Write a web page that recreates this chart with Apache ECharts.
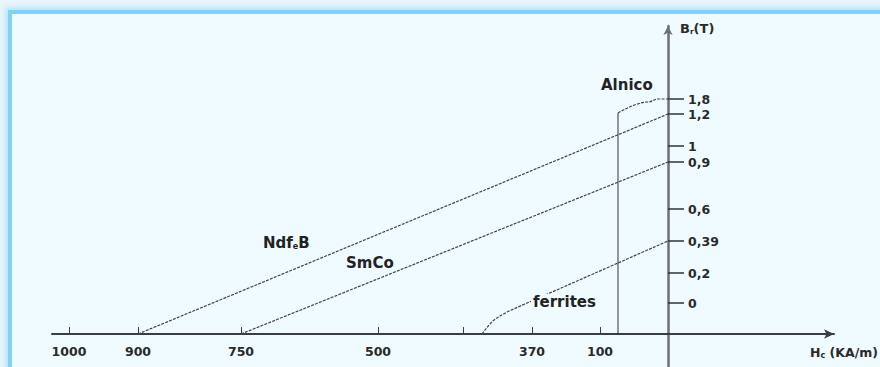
<!DOCTYPE html>
<html><head><meta charset="utf-8">
<script src="https://cdn.jsdelivr.net/npm/echarts@6/dist/echarts.min.js"></script>
<style>
html,body{margin:0;padding:0;width:880px;height:367px;overflow:hidden;background:#eaf5fc;}
#frame{position:absolute;left:8px;top:10px;width:900px;height:400px;background:#f0fbff;border-left:4px solid #80d2fa;border-top:4px solid #80d2fa;box-shadow:0 0 6px 2px rgba(130,205,245,0.55);}
#chart{position:absolute;left:0;top:0;width:880px;height:367px;}
</style></head><body>
<div id="frame"></div><div id="chart"></div>
<script>
// Schematic (not to scale) axes: tick labels and their positions along each axis
const xTickLabels = ['1000', '900', '750', '500', '', '370', '100'];
const xTickPos = [-599, -530, -427, -290, -205, -136, -68];
const yTickLabels = ['0', '0,2', '0,39', '0,6', '0,9', '1', '1,2', '1,8'];
const yTickPos = [31, 61, 93, 125, 172, 188, 220, 235];

const xAt = l => xTickPos[xTickLabels.indexOf(l)];
const yAt = l => yTickPos[yTickLabels.indexOf(l)];

// Demagnetisation curves (Hc on x, Br on y)
const ndfebCurve = [[xAt('900'), 0], [0, yAt('1,2')]];
const smcoCurve = [[xAt('750'), 0], [0, yAt('0,9')]];
const ferritesCurve = [[-186, 0], [-183, 4], [-179, 9], [-174, 14], [-168, 18], [-161, 22], [-150, 27], [0, yAt('0,39')]];
const alnicoVertical = [[-50, 0], [-50, 221]];
const alnicoKnee = [[-50, 221], [-20, 232], [-10, yAt('1,8')], [0, yAt('1,8')]];

const FONT = 'DejaVu Sans';
const X_MIN = -616, X_MAX = 166, Y_MIN = -33, Y_MAX = 308;
const chart = echarts.init(document.getElementById('chart'), null, {renderer: 'svg'});
const dashed = {color: '#444', width: 1.2, type: [3, 1.2]};
const mk = (name, data, ls, smooth) => ({
  type: 'line', name, data, symbol: 'none', silent: true, smooth: smooth || false,
  smoothMonotone: 'x', lineStyle: ls, z: 3
});
const txt = {fontFamily: FONT, fontSize: 12.5, fontWeight: 'bold', color: '#2a2a2a'};

chart.setOption({
  animation: false,
  backgroundColor: 'transparent',
  grid: {left: 52, right: 46, top: 26, bottom: 0, containLabel: false, outerBoundsMode: 'none'},
  xAxis: {
    type: 'value', min: X_MIN, max: X_MAX, position: 'bottom', offset: Y_MIN,
    splitLine: {show: false},
    axisLine: {onZero: false, lineStyle: {color: '#3a3e42', width: 2}, symbol: ['none', 'arrow'], symbolSize: [7, 10]},
    axisTick: {show: true, inside: true, length: 7, customValues: xTickPos, lineStyle: {color: '#3a3e42', width: 1}},
    axisLabel: Object.assign({customValues: xTickPos, margin: 11, formatter: v => xTickLabels[xTickPos.indexOf(v)]}, txt),
    name: 'H{s|c} (KA/m)', nameLocation: 'end', nameGap: 44,
    nameTextStyle: Object.assign({align: 'right', verticalAlign: 'top', padding: [11, 0, 0, 0],
      rich: {s: Object.assign({}, txt, {fontSize: 8, verticalAlign: 'bottom', padding: [6, 0, 0, 0]})}}, txt)
  },
  yAxis: {
    type: 'value', min: Y_MIN, max: Y_MAX, position: 'left', offset: X_MIN,
    splitLine: {show: false},
    axisLine: {onZero: false, lineStyle: {color: '#6c7176', width: 2.5}, symbol: ['none', 'arrow'], symbolSize: [7, 9]},
    axisTick: {show: true, inside: true, length: 16, customValues: yTickPos, lineStyle: {color: '#333', width: 1.5}},
    axisLabel: Object.assign({inside: true, customValues: yTickPos, margin: 20, formatter: v => yTickLabels[yTickPos.indexOf(v)]}, txt),
    name: 'B{s|r}(T)', nameLocation: 'end', nameGap: -2,
    nameTextStyle: Object.assign({align: 'left', verticalAlign: 'middle', padding: [0, 0, 0, 12],
      rich: {s: Object.assign({}, txt, {fontSize: 7.5, verticalAlign: 'bottom', padding: [6, 0, 0, 0]})}}, txt, {fontSize: 13})
  },
  series: [
    mk('NdfeB', ndfebCurve, dashed),
    mk('SmCo', smcoCurve, dashed),
    mk('ferrites', ferritesCurve, dashed),
    mk('Alnico', alnicoVertical, {color: '#333', width: 1}),
    mk('Alnico knee', alnicoKnee, dashed, 0.4)
  ],
  graphic: [
    {type: 'text', left: 601, top: 77, z: 10, style: {text: 'Alnico', font: `bold 15px "${FONT}"`, fill: '#222'}},
    {type: 'text', left: 263, top: 235, z: 10, style: {text: 'Ndf{s|e}B', font: `bold 15px "${FONT}"`, fill: '#222',
      rich: {s: {fontSize: 8, fontFamily: FONT, fontWeight: 'bold', fill: '#222', verticalAlign: 'bottom', padding: [7, 0, 0, 0]}}}},
    {type: 'text', left: 346, top: 255, z: 10, style: {text: 'SmCo', font: `bold 15px "${FONT}"`, fill: '#222'}},
    {type: 'text', left: 531, top: 294, z: 10, style: {text: 'ferrites', font: `bold 15px "${FONT}"`, fill: '#222', backgroundColor: '#f0fbff', padding: [0, 2, 0, 2]}}
  ]
});
</script>
</body></html>
